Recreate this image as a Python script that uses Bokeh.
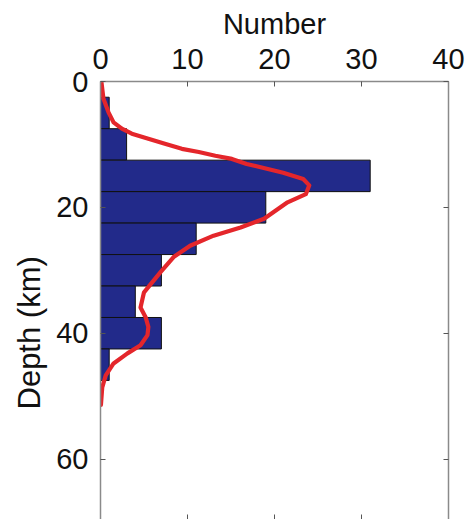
from bokeh.plotting import figure
from bokeh.models import Range1d, LinearAxis, FixedTicker, Title
from bokeh.embed import file_html
from bokeh.resources import INLINE

# Histogram: depth bin centres (km) and counts
depth_centers = [5, 10, 15, 20, 25, 30, 35, 40, 45]
counts = [1, 3, 31, 19, 11, 7, 4, 7, 1]
bin_width = 5

# Smoothed density curve (number, depth)
curve_number = [0.1, 0.34, 0.92, 1.5, 2.45, 3.6, 5.5, 7.4, 9.35, 11.3, 13.2, 15.1, 16.8,
                21.0, 23.3, 24.0, 23.6, 21.5, 18.8, 16.1, 13.0, 10.3, 8.4, 6.9, 5.0,
                4.6, 5.2, 5.5, 5.4, 4.6, 3.1, 1.5, 0.6, 0.2, 0.05]
curve_depth = [0.0, 2.75, 4.9, 6.5, 7.5, 8.3, 9.1, 9.9, 10.7, 11.2, 11.8, 12.3, 13.1,
               14.5, 15.5, 16.5, 17.9, 19.2, 21.8, 23.2, 24.5, 26.1, 27.9, 30.3, 33.5,
               35.9, 37.5, 39.0, 40.3, 41.9, 43.2, 44.8, 46.7, 48.6, 51.4]

x_ticks = [0, 10, 20, 30, 40]
y_ticks = [0, 20, 40, 60]

FONT = "Liberation Sans"
FS = "29px"
AXIS_COLOR = "#8a8a8a"
TEXT_COLOR = "#111111"

p = figure(width=465, height=519, output_backend="svg", toolbar_location=None,
           x_range=Range1d(0, 40), y_range=Range1d(69.6, 0),
           x_axis_location=None, y_axis_location=None,
           min_border_left=100, min_border_top=81, min_border_right=17, min_border_bottom=0)
p.outline_line_color = None
p.xgrid.visible = False
p.ygrid.visible = False
p.background_fill_color = "white"
p.border_fill_color = "white"

p.hbar(y=depth_centers, left=0, right=counts, height=bin_width,
       fill_color="#222a8a", line_color="#111111", line_width=1)
p.line(x=curve_number, y=curve_depth, line_color="#e4262b", line_width=4.2,
       line_join="round", line_cap="round")


def style(ax):
    ax.axis_line_color = AXIS_COLOR
    ax.axis_line_width = 1.5
    ax.major_tick_line_color = "#555555"
    ax.major_tick_in = 5
    ax.major_tick_out = 0
    ax.minor_tick_line_color = "#555555"
    ax.minor_tick_in = 5
    ax.minor_tick_out = 0
    ax.major_label_text_font = FONT
    ax.major_label_text_font_size = FS
    ax.major_label_text_color = TEXT_COLOR
    ax.axis_label_text_font = FONT
    ax.axis_label_text_font_size = FS
    ax.axis_label_text_font_style = "normal"
    ax.axis_label_text_color = TEXT_COLOR


top = LinearAxis(ticker=FixedTicker(ticks=x_ticks), axis_label="Number")
style(top)
top.minor_tick_line_color = None
top.major_label_standoff = 13
top.axis_label_standoff = 6
p.add_layout(top, "above")

left = LinearAxis(ticker=FixedTicker(ticks=y_ticks))
style(left)
left.minor_tick_line_color = None
left.major_label_standoff = 12
p.add_layout(left, "left")

# right and bottom frame edges: tick marks only, no labels
right = LinearAxis(ticker=FixedTicker(ticks=[], minor_ticks=y_ticks))
style(right)
p.add_layout(right, "right")

bottom = LinearAxis(ticker=FixedTicker(ticks=[], minor_ticks=x_ticks))
style(bottom)
bottom.axis_line_color = None
p.add_layout(bottom, "below")

p.add_layout(Title(text="Depth (km)", align="left", offset=110, standoff=14,
                   text_font=FONT, text_font_size="31px", text_font_style="normal",
                   text_color=TEXT_COLOR), "left")

open("out.html", "w").write(file_html(p, INLINE))
